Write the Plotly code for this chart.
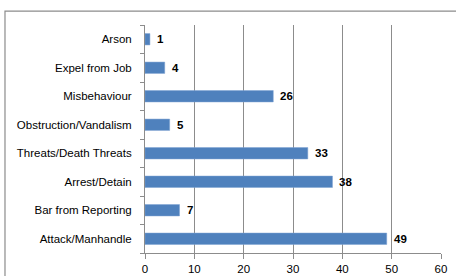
import plotly.graph_objects as go

categories = ["Attack/Manhandle", "Bar from Reporting", "Arrest/Detain", "Threats/Death Threats",
              "Obstruction/Vandalism", "Misbehaviour", "Expel from Job", "Arson"]
values = [49, 7, 38, 33, 5, 26, 4, 1]
x_ticks = [0, 10, 20, 30, 40, 50, 60]

FONT = "Liberation Sans"

fig = go.Figure()
fig.add_trace(go.Bar(
    x=values, y=categories, orientation="h",
    marker=dict(color="#4F81BD", line=dict(color="#7FA3D3", width=0.5)),
    width=0.4, hoverinfo="skip",
))

for v, c in zip(values, categories):
    fig.add_annotation(x=v, y=c, text="<b>%d</b>" % v, showarrow=False,
                       xanchor="left", xshift=5,
                       font=dict(family=FONT, size=11.5, color="#000000"))

fig.update_layout(
    width=456, height=276,
    margin=dict(l=145, r=15, t=25, b=23, autoexpand=False),
    paper_bgcolor="white", plot_bgcolor="white",
    showlegend=False,
    font=dict(family=FONT, size=11.5, color="#000000"),
    xaxis=dict(range=[0, 60], tickvals=x_ticks, showgrid=True, gridcolor="#8C8C8C", gridwidth=1,
               zeroline=False, showline=True, linecolor="#8C8C8C", linewidth=1,
               ticks="outside", ticklen=5, tickcolor="#8C8C8C", fixedrange=True, automargin=False),
    yaxis=dict(categoryorder="array", categoryarray=categories, showgrid=False,
               showline=True, linecolor="#8C8C8C", linewidth=1,
               ticks="outside", ticklen=4, tickcolor="#8C8C8C", tickson="boundaries",
               ticklabelstandoff=10, fixedrange=True, automargin=False),
    shapes=[dict(type="rect", xref="paper", yref="paper", x0=-0.473, x1=1.2, y0=-0.3, y1=1.061,
                 line=dict(color="#8C8C8C", width=1.2), fillcolor="rgba(0,0,0,0)", layer="below")],
)

fig.write_html("out.html", config={"displayModeBar": False},
               post_script="document.body.style.margin='0';document.body.style.overflow='hidden';")
